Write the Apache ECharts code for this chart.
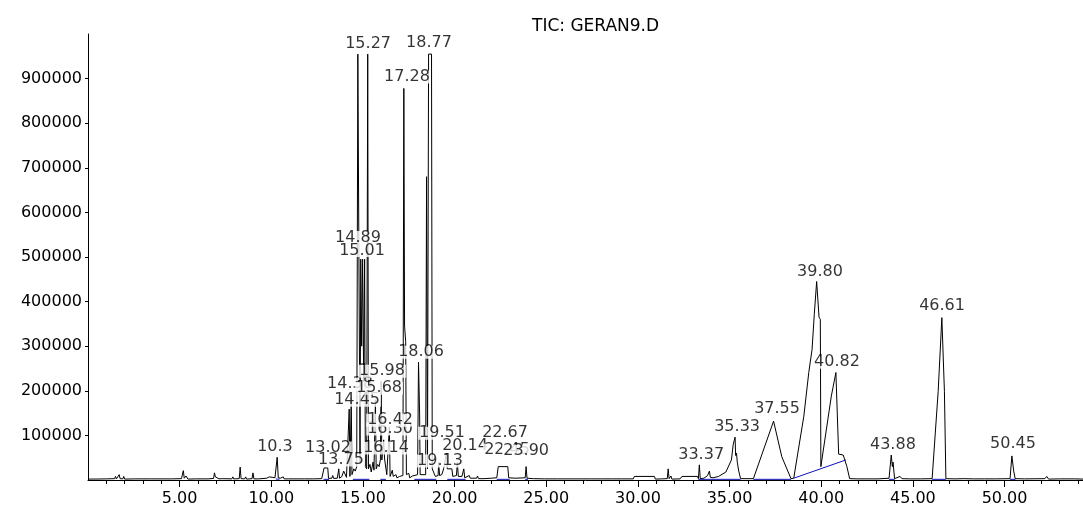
<!DOCTYPE html>
<html>
<head>
<meta charset="utf-8">
<script src="https://cdn.jsdelivr.net/npm/echarts@6/dist/echarts.min.js"></script>
<style>
html,body{margin:0;padding:0;background:#fff;overflow:hidden;}
#chart{width:1083px;height:507px;}
</style>
</head>
<body>
<div id="chart"></div>
<script>
// ---- DATA (retention time in min, abundance) ----
const chartTitle = 'TIC: GERAN9.D';
const yTickValues = [100000,200000,300000,400000,500000,600000,700000,800000,900000];
const xMajorTicks = [5,10,15,20,25,30,35,40,45,50];
const xMinorTicks = [1,2,3,4,6,7,8,9,11,12,13,14,16,17,18,19,21,22,23,24,26,27,28,29,31,32,33,34,36,37,38,39,41,42,43,44,46,47,48,49,51,52,53,54];

const ticEarly = [
[0.0,2000],[0.55,2200],[0.6,6000],[0.65,2000],[1.0,2500],[1.05,5000],[1.1,2000],[1.45,3000],[1.5,8000],[1.55,2500],
[1.65,3000],[1.7,12000],[1.75,3000],[1.9,2500],[1.95,8000],[2.0,2000],[2.55,2500],[2.6,6000],[2.65,2000],[3.4,2500],
[3.45,5500],[3.5,2000],[4.2,2500],[4.25,5000],[4.3,2000],[4.55,2500],[4.6,5000],[4.65,2000],[5.1,3000],[5.2,21000],
[5.25,4000],[5.35,9000],[5.45,2000],[5.9,2500],[5.95,5000],[6.0,2000],[6.55,2500],[6.6,5000],[6.65,2000],[6.85,3500],
[6.9,16000],[6.95,7000],[7.05,8000],[7.15,2500],[7.35,3000],[7.4,6000],[7.45,2000],[7.85,2500],[7.9,7000],[7.95,2500],
[8.25,3000],[8.3,29000],[8.35,3000],[8.55,2500],[8.6,7000],[8.65,2000],[8.95,3000],[9.0,16000],[9.05,2500],[9.3,2500],
[9.35,6000],[9.4,2000],[9.75,4000],[9.9,7000],[10.05,6000],[10.2,5000],[10.32,51000],[10.38,5000],[10.5,4000],[10.65,7000],
[10.7,2500],[10.95,2500],[11.0,5500],[11.05,2000],[11.4,2500],[11.45,5000],[11.5,2000],[11.8,2500],[11.85,6000],[11.9,2000],
[12.3,2500],[12.35,5000],[12.4,2000],[12.75,3000]
];

const ticCluster = [
[12.88,27000],[13.08,27000],[13.12,3500],[13.3,4000],[13.35,10000],[13.4,3500],[13.6,4000],[13.68,25000],[13.72,4000],
[13.85,8000],[13.95,20000],[14.05,22000],[14.1,6000],[14.18,8000],[14.25,159000],[14.29,8000],[14.36,185000],[14.4,12000],
[14.5,25000],[14.58,20000],[14.66,30000],[14.72,955000],[14.8,955000],[14.84,40000],[14.88,495000],[14.93,300000],
[14.98,495000],[15.04,220000],[15.09,495000],[15.13,30000],[15.2,25000],[15.26,955000],[15.3,25000],[15.38,35000],
[15.45,18000],[15.55,40000],[15.6,22000],[15.68,180000],[15.72,25000],[15.8,35000],[15.88,30000],[15.95,45000],
[15.99,220000],[16.03,45000],[16.08,47000],[16.13,90000],[16.18,47000],[16.24,45000],[16.3,12000],[16.4,10000],
[16.44,120000],[16.48,8000],[16.6,22000],[16.65,8000],[16.8,12000],[16.85,5000],[17.0,8000],[17.1,6000],[17.18,10000],
[17.23,878000],[17.27,345000],[17.33,310000],[17.37,12000],[17.5,15000],[17.55,5000],[17.7,9000],[17.8,6000],
[17.98,12000],[18.03,264000],[18.09,150000],[18.12,12000],[18.2,8000],[18.42,12000],[18.47,680000],[18.52,25000],
[18.58,955000],[18.74,955000],[18.78,25000],[18.88,15000],[18.95,8000],[19.1,10000],[19.13,40000],[19.18,10000],
[19.3,12000],[19.4,25000],[19.55,60000],[19.6,25000],[19.85,25000],[19.9,8000],[20.1,10000],[20.15,40000],[20.2,8000],
[20.4,8000],[20.5,25000],[20.55,5000],[20.8,10000],[20.85,4000],[21.2,4000],[21.25,9000],[21.3,3000],[21.6,3000],
[21.65,7000],[21.7,3000],[22.0,4000],[22.3,5000],[22.38,30000],[22.9,30000],[22.95,5000],[23.3,4000],[23.35,8000],
[23.4,3000],[23.85,5000],[23.9,30000],[23.95,4000],[24.3,3000],[24.35,6000],[24.4,2500]
];

const ticMiddle = [
[24.9,2500],[24.95,5000],[25.0,2000],[25.6,2500],[25.65,5000],[25.7,2000],[26.3,2500],[26.35,4500],[26.4,2000],
[26.9,2500],[26.95,5000],[27.0,2000],[27.4,2500],[27.45,6000],[27.5,2000],[28.0,2500],[28.05,4500],[28.1,2000],
[28.6,2500],[28.65,5000],[28.7,2000],[29.1,2500],[29.15,4000],[29.2,2000],[29.75,2500],[29.8,8000],[30.9,8000],
[30.95,2000],[31.3,2500],[31.35,5000],[31.4,2000],[31.6,3000],[31.65,25000],[31.7,3000],[31.8,9000],[31.85,2000],
[32.3,2500],[32.4,8000],[33.25,8000],[33.3,3000],[33.35,34000],[33.4,3000]
];

const ticLate = [
[33.6,4000],[33.8,10000],[33.9,20000],[33.95,6000],[34.1,5000],[34.4,8000],[34.8,18000],[35.1,45000],[35.2,80000],
[35.3,96000],[35.33,55000],[35.38,60000],[35.42,40000],[35.5,20000],[35.6,3000],[36.3,3000],[37.4,132000],[37.85,52000],
[37.9,48000],[38.35,3000],[38.5,4000],[39.05,143000],[39.32,241000],[39.5,293000],[39.62,371000],[39.75,445000],
[39.83,445000],[39.88,365000],[39.95,360000],[39.98,30000],[40.05,30000],[40.55,188000],[40.8,241000],[40.95,58000],
[41.2,56000],[41.3,54000],[41.4,30000],[41.55,3000],[42.0,2500],[42.05,5000],[42.1,2000],[42.6,2500],[42.65,4500],
[42.7,2000],[43.1,2500],[43.15,5000],[43.2,2000],[43.7,4000],[43.82,56000],[43.88,30000],[43.92,40000],[44.0,3000],
[44.3,8000],[44.4,3000],[44.8,2500],[44.85,5000],[44.9,2000],[45.4,2500],[45.45,4500],[45.5,2000],[46.05,3000],
[46.38,199000],[46.58,364000],[46.64,364000],[46.72,199000],[46.8,3000],[47.3,2500],[47.35,5000],[47.4,2000],
[47.8,3000],[47.85,7000],[47.9,2000],[48.3,2500],[48.35,5000],[48.4,2000],[48.9,2500],[48.95,5000],[49.0,2000],
[49.5,2500],[49.55,5000],[49.6,2000],[50.3,3000],[50.4,54000],[50.5,20000],[50.58,3000],[51.1,2500],[51.15,5000],
[51.2,2000],[52.2,3000],[52.3,8000],[52.4,2000],[53.0,2500],[53.05,5000],[53.1,2000],[53.8,2500],[53.85,5000],
[53.9,2000],[54.3,2000]
];

// integration baselines (blue), '-' breaks the line
const integrationBaseline = [
[10.25,2000],[10.45,2000],[10.46,'-'],
[12.85,1500],[13.15,1500],[13.16,'-'],
[14.45,1500],[15.35,1500],[15.36,'-'],
[15.95,1500],[16.25,1500],[16.26,'-'],
[17.8,1500],[19.0,1500],[19.01,'-'],
[19.6,1500],[20.6,1500],[20.61,'-'],
[22.3,1500],[23.0,1500],[23.01,'-'],
[23.85,1500],[24.0,1500],[24.01,'-'],
[33.3,1500],[35.6,1500],[35.61,'-'],
[36.3,1500],[38.35,1500],[38.36,'-'],
[38.5,4000],[41.35,45000],[41.36,'-'],
[43.7,1500],[44.0,1500],[44.01,'-'],
[46.05,1500],[46.8,1500],[46.81,'-'],
[50.3,1500],[50.6,1500]
];

// peak labels: text, time at label centre, abundance level at label centre
const peakLabelText  = ['15.27','18.77','17.28','14.89','15.01','14.45','14.38','15.68','15.98','18.06','16.30','16.42','19.51','22.67','13.02','10.3','16.14','20.14','22.45','23.90','13.75','19.13','33.37','35.33','37.55','39.80','40.82','43.88','46.61','50.45'];
const peakLabelTime  = [15.28,18.60,17.40,14.73,14.95,14.68,14.29,15.88,16.04,18.17,16.48,16.48,19.31,22.75,13.09,10.20,16.26,20.57,22.86,23.90,13.80,19.20,33.45,35.41,37.59,39.93,40.86,43.91,46.59,50.46];
const peakLabelLevel = [977600,979800,903700,543600,514500,179000,214800,205800,243800,286300,114100,134200,105100,105100,71600,73800,71600,76100,67100,64900,44700,42500,55900,118600,158800,467500,264000,78300,391500,80500];

// ---- CHART ----
const FONT = 'DejaVu Sans';
const X_MAX = 54.28;
const ticSignal = ticEarly.concat(ticCluster, ticMiddle, ticLate);
const labelData = peakLabelText.map((t,i)=>[peakLabelTime[i], peakLabelLevel[i], t]);
const axisBlack = {color:'#000', width:1};

const chart = echarts.init(document.getElementById('chart'), null, {renderer:'canvas'});
chart.setOption({
  animation:false,
  backgroundColor:'#ffffff',
  title:{text:chartTitle, left:527, top:13,
    textStyle:{fontFamily:FONT, fontSize:17, fontWeight:'normal', color:'#000'}},
  grid:{left:88, right:0, top:34, bottom:26, containLabel:false},
  xAxis:[
    {type:'value', min:0, max:X_MAX, position:'bottom',
      axisLine:{show:true, lineStyle:axisBlack},
      axisTick:{show:true, length:7, customValues:xMajorTicks, lineStyle:axisBlack},
      axisLabel:{margin:11, color:'#000', fontFamily:FONT, fontSize:16, customValues:xMajorTicks,
        formatter:v=> v.toFixed(2)},
      splitLine:{show:false}},
    {type:'value', min:0, max:X_MAX, position:'bottom', offset:0,
      axisLine:{show:false},
      axisTick:{show:true, length:4, customValues:xMinorTicks, lineStyle:axisBlack},
      axisLabel:{show:false},
      splitLine:{show:false}}
  ],
  yAxis:{type:'value', min:0, max:1000000,
    axisLine:{show:true, lineStyle:axisBlack},
    axisTick:{show:true, length:3, customValues:yTickValues, lineStyle:axisBlack},
    axisLabel:{margin:6, color:'#000', fontFamily:FONT, fontSize:16, customValues:yTickValues,
      formatter:v=> String(v)},
    splitLine:{show:false}},
  series:[
    {type:'line', data:ticSignal, showSymbol:false, symbol:'none', z:2, xAxisIndex:0,
      lineStyle:{color:'#000', width:1}, silent:true},
    {type:'line', data:integrationBaseline, showSymbol:false, symbol:'none', z:3, xAxisIndex:0, connectNulls:false,
      lineStyle:{color:'#1010b0', width:1}, silent:true},
    {type:'scatter', data:labelData, z:10, symbolSize:1, silent:true, xAxisIndex:0,
      itemStyle:{color:'rgba(0,0,0,0)'},
      label:{show:true, position:'inside', formatter:p=>p.value[2], color:'#000',
        fontFamily:FONT, fontSize:16, lineHeight:13, backgroundColor:'#ffffff', padding:[0,1]},
      labelLayout:{hideOverlap:false}}
  ]
});
</script>
</body>
</html>
